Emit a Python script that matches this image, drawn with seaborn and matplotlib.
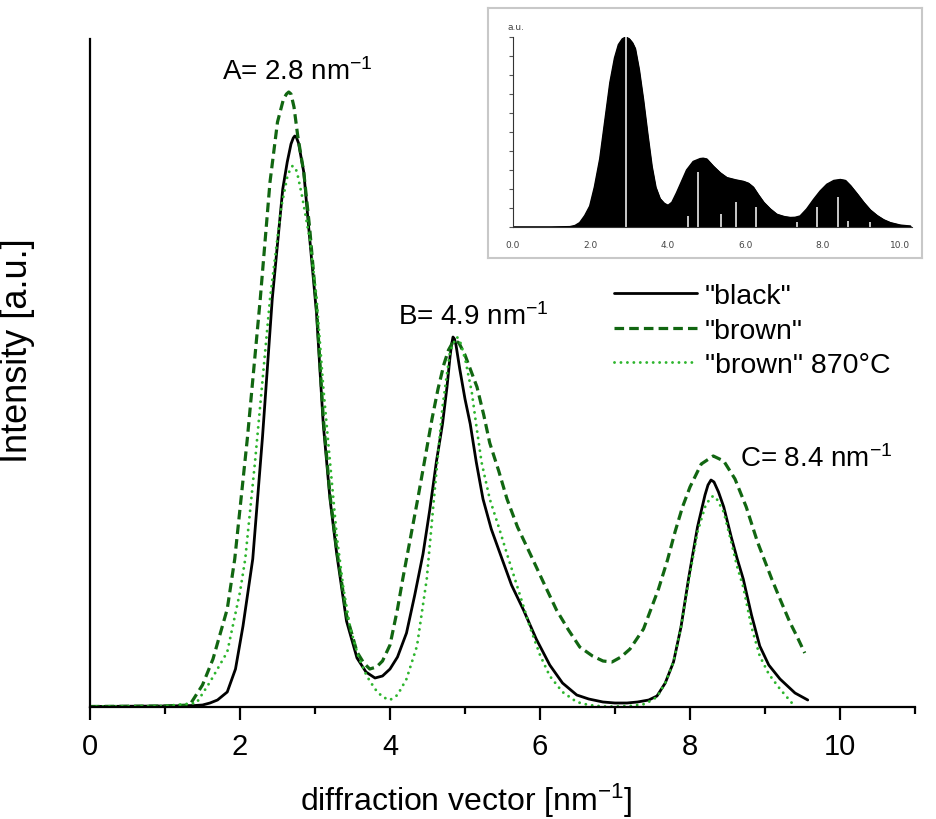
import numpy as np
import pandas as pd
import matplotlib
matplotlib.use('Agg')
import matplotlib.pyplot as plt
import seaborn as sns

# diffraction vector q [nm^-1] and intensity [a.u.]
black_q = [0.0, 1.0, 1.4, 1.5, 1.6, 1.7, 1.83, 1.94, 2.04, 2.17, 2.3, 2.43, 2.57, 2.63, 2.68, 2.71, 2.73, 2.75, 2.78, 2.85,
           2.93, 3.02, 3.11, 3.2, 3.29, 3.42, 3.56, 3.68, 3.8, 3.9, 4.0, 4.1, 4.22, 4.33, 4.44, 4.53, 4.62, 4.7, 4.76, 4.8,
           4.82, 4.84, 4.86, 4.88, 4.93, 5.0, 5.07, 5.15, 5.24, 5.35, 5.47, 5.62, 5.78, 5.95, 6.13, 6.3, 6.49, 6.65, 6.84, 7.0,
           7.16, 7.3, 7.45, 7.56, 7.67, 7.78, 7.88, 7.98, 8.1, 8.2, 8.24, 8.28, 8.32, 8.38, 8.45, 8.55, 8.63, 8.71, 8.82, 8.93,
           9.05, 9.2, 9.4, 9.57]
black_i = [0.5, 1, 1.5, 2, 4, 7, 15, 38, 81, 148, 270, 408, 518, 545, 563, 569, 571, 570, 564, 535,
           468, 394, 283, 208, 153, 86, 49, 35, 29, 31, 38, 50, 74, 112, 153, 197, 246, 283, 320, 350,
           362, 370, 368, 362, 338, 308, 283, 245, 208, 178, 153, 122, 97, 68, 42, 24, 12, 8, 5, 4,
           4, 5, 7, 11, 24, 45, 80, 128, 180, 212, 222, 227, 225, 215, 200, 170, 148, 128, 92, 61,
           42, 28, 14, 7]

brown_q = [0.0, 1.0, 1.33, 1.5, 1.64, 1.83, 1.93, 2.1, 2.27, 2.4, 2.5, 2.58, 2.62, 2.65, 2.68, 2.72, 2.77, 2.85, 2.93, 3.02,
           3.11, 3.2, 3.29, 3.42, 3.56, 3.65, 3.73, 3.82, 3.9, 4.0, 4.1, 4.17, 4.27, 4.37, 4.47, 4.56, 4.64, 4.72, 4.78, 4.84,
           4.88, 4.92, 5.0, 5.08, 5.16, 5.25, 5.33, 5.45, 5.56, 5.7, 5.87, 6.05, 6.22, 6.38, 6.53, 6.7, 6.84, 6.96, 7.08, 7.2,
           7.38, 7.58, 7.7, 7.8, 7.9, 8.0, 8.15, 8.31, 8.45, 8.6, 8.75, 8.9, 9.09, 9.2, 9.33, 9.43, 9.53]
brown_i = [0.5, 1, 2, 22, 48, 98, 148, 270, 408, 525, 585, 608, 613, 615, 613, 600, 571, 535, 478, 400,
           290, 212, 157, 92, 55, 44, 38, 40, 46, 62, 98, 128, 168, 208, 250, 288, 318, 343, 357, 365,
           366, 364, 352, 336, 320, 292, 264, 236, 208, 180, 153, 124, 97, 77, 60, 51, 46, 45, 50, 58,
           78, 118, 147, 175, 200, 220, 243, 251, 246, 228, 200, 165, 128, 108, 85, 70, 54]

b870_q = [0.0, 1.0, 1.42, 1.6, 1.83, 2.0, 2.07, 2.2, 2.4, 2.55, 2.63, 2.67, 2.7, 2.73, 2.76, 2.83, 2.93, 3.02, 3.11, 3.2,
          3.29, 3.38, 3.47, 3.58, 3.69, 3.8, 3.9, 4.0, 4.1, 4.22, 4.36, 4.49, 4.6, 4.7, 4.8, 4.86, 4.89, 4.92, 4.95, 5.01,
          5.09, 5.15, 5.22, 5.33, 5.45, 5.56, 5.72, 5.87, 6.0, 6.13, 6.3, 6.49, 6.65, 6.84, 7.0, 7.2, 7.4, 7.56, 7.67, 7.78,
          7.88, 7.98, 8.1, 8.2, 8.27, 8.31, 8.35, 8.45, 8.55, 8.63, 8.71, 8.82, 8.93, 9.05, 9.2, 9.37]
b870_i = [0.5, 1, 4, 25, 55, 115, 148, 245, 408, 500, 530, 538, 541, 540, 535, 510, 468, 410, 320, 245,
          171, 118, 79, 50, 31, 18, 10, 7, 12, 28, 61, 128, 220, 300, 355, 366, 370, 368, 362, 345,
          315, 282, 245, 208, 180, 153, 115, 79, 52, 31, 15, 5, 2, 0.5, 0.5, 1, 3, 10, 24, 45,
          80, 125, 175, 200, 209, 211, 209, 195, 165, 140, 120, 80, 51, 33, 18, 3]

series_labels = ['"black"', '"brown"', '"brown" 870°C']

# inset: simulated pattern (filled) with reflection sticks
inset_q = [0, 1.0, 1.47, 1.6, 1.72, 1.85, 1.98, 2.1, 2.24, 2.37, 2.5, 2.62, 2.72, 2.82, 2.91, 3.0, 3.08, 3.15, 3.25, 3.36,
           3.47, 3.58, 3.68, 3.79, 3.9, 4.0, 4.1, 4.22, 4.35, 4.48, 4.65, 4.83, 4.91, 5.0, 5.17, 5.35, 5.52, 5.75, 5.95, 6.08,
           6.2, 6.33, 6.47, 6.64, 6.81, 7.0, 7.16, 7.28, 7.41, 7.58, 7.76, 7.93, 8.1, 8.28, 8.45, 8.58, 8.71, 8.88, 9.05, 9.22,
           9.4, 9.57, 9.74, 10.0, 10.26]
inset_i = [0, 0, 0.002, 0.008, 0.023, 0.06, 0.11, 0.21, 0.36, 0.56, 0.76, 0.89, 0.96, 0.99, 1.0, 0.99, 0.97, 0.94, 0.83, 0.67,
           0.49, 0.32, 0.21, 0.15, 0.125, 0.114, 0.13, 0.18, 0.24, 0.30, 0.345, 0.36, 0.362, 0.358, 0.32, 0.285, 0.26, 0.248, 0.24, 0.23,
           0.21, 0.17, 0.13, 0.095, 0.067, 0.055, 0.05, 0.051, 0.058, 0.095, 0.146, 0.19, 0.225, 0.245, 0.25, 0.245, 0.218, 0.175, 0.13, 0.09,
           0.06, 0.038, 0.023, 0.01, 0.005]
stick_q = [2.91, 4.53, 4.77, 5.37, 5.75, 6.27, 7.33, 7.84, 8.38, 8.66, 9.21]
stick_i = [1.0, 0.06, 0.29, 0.07, 0.134, 0.107, 0.026, 0.106, 0.158, 0.032, 0.026]

sns.set_style('ticks')
plt.rcParams['font.family'] = ['Liberation Sans', 'DejaVu Sans']
plt.rcParams['mathtext.fontset'] = 'custom'
plt.rcParams['mathtext.rm'] = 'Liberation Sans'
plt.rcParams['mathtext.it'] = 'Liberation Sans:italic'
plt.rcParams['text.color'] = 'black'
plt.rcParams['axes.labelcolor'] = 'black'
plt.rcParams['xtick.color'] = 'black'
plt.rcParams['ytick.color'] = 'black'

fig = plt.figure(figsize=(9.37, 8.2), dpi=100)
ax = fig.add_axes([90/937, 112/820, 825/937, 668/820])

sns.lineplot(x=black_q, y=black_i, ax=ax, color='black', lw=2.0, label=series_labels[0])
sns.lineplot(x=brown_q, y=brown_i, ax=ax, color='#116611', lw=2.3, linestyle=(0, (3.0, 1.6)), label=series_labels[1])
sns.lineplot(x=b870_q, y=b870_i, ax=ax, color='#2db52d', lw=2.1, linestyle=(0, (0.01, 2.2)),
             dash_capstyle='round', label=series_labels[2])

ax.set_xlim(0, 11)
ax.set_ylim(0, 668)
ax.set_xticks(range(0, 11, 2))
ax.set_xticks(range(1, 12, 2), minor=True)
ax.set_yticks([])
sns.despine(ax=ax)
for s in ['left', 'bottom']:
    ax.spines[s].set_linewidth(1.6)
    ax.spines[s].set_color('black')
ax.tick_params(axis='x', which='major', length=9, width=1.6, direction='out', labelsize=21, pad=9)
ax.tick_params(axis='x', which='minor', length=5, width=1.6, direction='out')

ax.set_xlabel('diffraction vector [nm$^{-1}$]', fontsize=23)
ax.xaxis.set_label_coords((466 - 90) / 825, -0.11)
ax.set_ylabel('Intensity [a.u.]', fontsize=26)
ax.yaxis.set_label_coords((35 - 90) / 825, (708 - 351) / 668)

ax.text(1.76, 628, 'A= 2.8 nm$^{-1}$', fontsize=20, ha='left', va='baseline')
ax.text(4.11, 383, 'B= 4.9 nm$^{-1}$', fontsize=20, ha='left', va='baseline')
ax.text(8.67, 241, 'C= 8.4 nm$^{-1}$', fontsize=20, ha='left', va='baseline')

ax.legend(loc='upper left', bbox_to_anchor=(614/937, 1 - 284/820), bbox_transform=fig.transFigure,
          frameon=False, fontsize=20.5, handlelength=2.9, handletextpad=0.3, labelspacing=0.3,
          borderpad=0, borderaxespad=0)

# inset frame
frame = fig.add_axes([488/937, 1 - 259/820, (922 - 488)/937, (259 - 9)/820])
frame.set_xticks([])
frame.set_yticks([])
for s in frame.spines.values():
    s.set_color('#c8c8c8')
    s.set_linewidth(1.5)

ax_in = fig.add_axes([513/937, 1 - 228/820, (912 - 513)/937, (228 - 38)/820])
ax_in.set_facecolor('none')
sns.lineplot(x=inset_q, y=inset_i, ax=ax_in, color='black', lw=1.0)
ax_in.fill_between(inset_q, inset_i, color='black')
ax_in.vlines(stick_q, 0, stick_i, color='white', lw=1.1)
ax_in.set_xlim(0, 10.3)
ax_in.set_ylim(0, 1.0)
ax_in.set_xticks(range(0, 11, 2))
ax_in.set_xticklabels(['%.1f' % v for v in range(0, 11, 2)])
ax_in.set_yticks(np.arange(0, 1.01, 0.1))
ax_in.set_yticklabels([])
ax_in.tick_params(axis='x', length=0, labelsize=6.5, labelcolor='#444444', pad=9)
ax_in.tick_params(axis='y', length=3, width=0.8, color='#555555', direction='out')
for t in ax_in.get_xticklabels():
    t.set_family('DejaVu Sans')
sns.despine(ax=ax_in)
for s in ['left', 'bottom']:
    ax_in.spines[s].set_color('#333333')
    ax_in.spines[s].set_linewidth(0.8)
ax_in.text(-0.015, 1.03, 'a.u.', transform=ax_in.transAxes, fontsize=6.5, color='#444444',
           ha='left', va='bottom', family='DejaVu Sans')

fig.savefig('out.png', dpi=100, facecolor='white')
